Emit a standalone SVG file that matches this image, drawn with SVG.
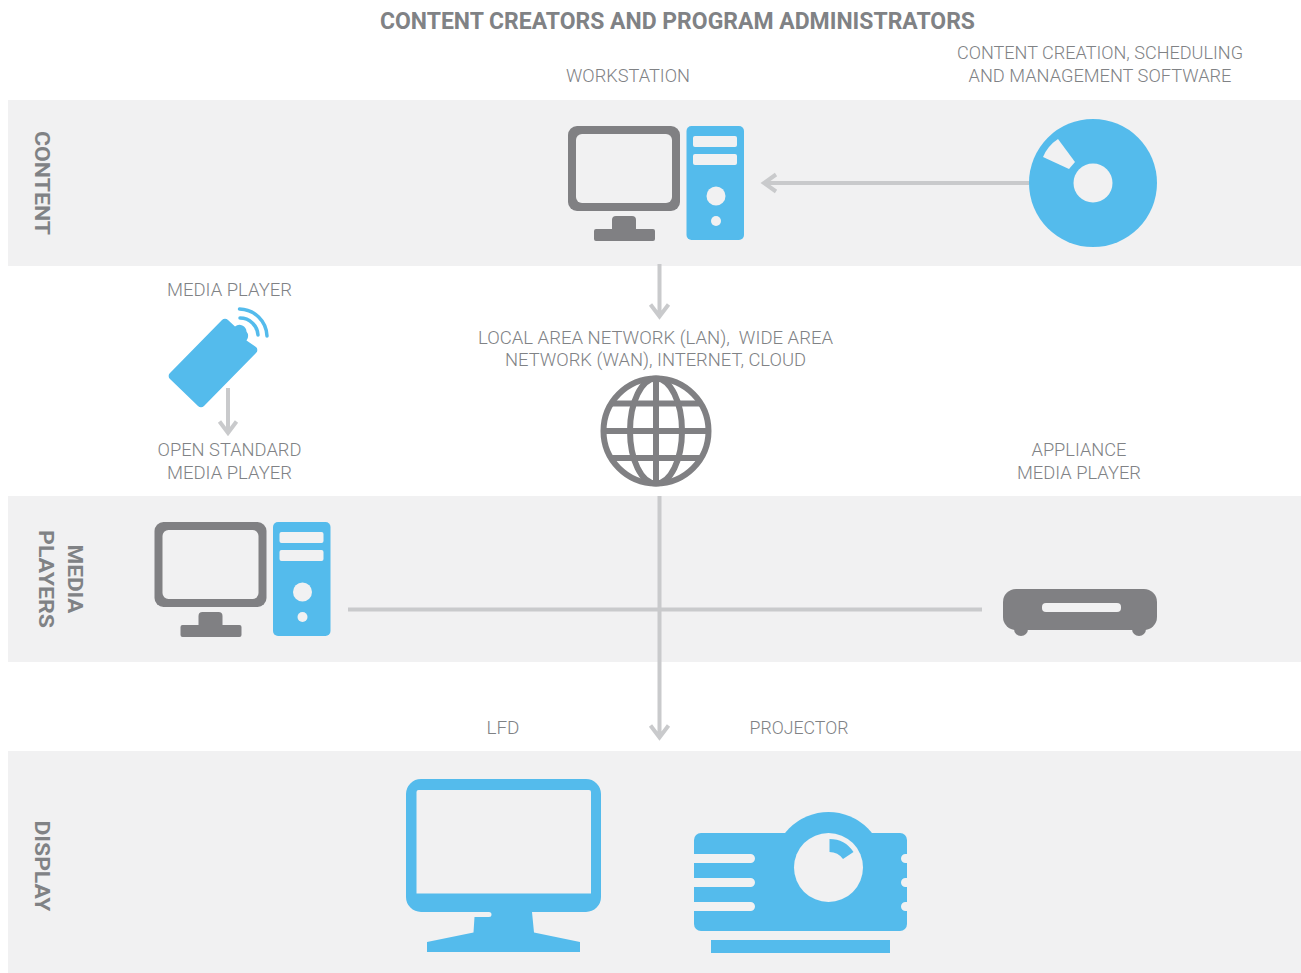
<svg xmlns="http://www.w3.org/2000/svg" xmlns:xlink="http://www.w3.org/1999/xlink" width="1301" height="973" viewBox="0 0 1301 973">
<style>
.band{fill:#f1f1f2}
.b{fill:#54bbec}
.g{fill:#808083}
.w{fill:#f1f1f2}
.ln{fill:none;stroke:#c9cacc;stroke-width:4}
text{font-family:"Roboto","Liberation Sans",sans-serif;fill:#808285}
.t{font-size:18px;font-weight:300;text-anchor:middle}
.h{font-size:23px;font-weight:700;text-anchor:middle}
.s{font-size:21px;font-weight:700;text-anchor:middle}
</style>
<defs>
<g id="pc">
<rect class="g" x="568" y="126" width="112" height="85" rx="9"/>
<rect class="w" x="576" y="134" width="96" height="69" rx="6"/>
<path class="g" d="M612 229V220a4 4 0 0 1 4-4h16a4 4 0 0 1 4 4v9h17a2 2 0 0 1 2 2v8a2 2 0 0 1-2 2h-57a2 2 0 0 1-2-2v-8a2 2 0 0 1 2-2z"/>
<rect class="b" x="686.500" y="126" width="57.500" height="114" rx="5"/>
<rect class="w" x="693" y="136" width="44" height="11" rx="2"/>
<rect class="w" x="693" y="154" width="44" height="11" rx="2"/>
<circle class="w" cx="716" cy="196" r="9.500"/>
<circle class="w" cx="716" cy="221" r="5"/>
</g>
</defs>
<g id="bands">
<rect class="band" x="8" y="100" width="1293" height="166"/>
<rect class="band" x="8" y="496" width="1293" height="166"/>
<rect class="band" x="8" y="751" width="1293" height="222"/>
</g>
<g id="connectors">
<path class="ln" d="M1029 183H765M776 174.500L764 183L776 191.500"/>
<path class="ln" d="M659.500 264V316M650.500 304.500L659.500 316.500L668.500 304.500"/>
<path class="ln" d="M228 388V432M219.500 421.500L228 433L236.500 421.500"/>
<path class="ln" d="M659.500 496V737M650.500 725.500L659.500 737.500L668.500 725.500"/>
<path class="ln" d="M348 609.500H982"/>
</g>
<g id="title"><text class="h" x="677.500" y="29" textLength="595" lengthAdjust="spacingAndGlyphs">CONTENT CREATORS AND PROGRAM ADMINISTRATORS</text></g>
<g id="content-label"><text class="s" transform="translate(35 183) rotate(90)" textLength="104" lengthAdjust="spacingAndGlyphs">CONTENT</text></g>
<g id="media-players-label">
<text class="s" transform="translate(68 579) rotate(90)" textLength="69" lengthAdjust="spacingAndGlyphs">MEDIA</text>
<text class="s" transform="translate(39 579) rotate(90)" textLength="98" lengthAdjust="spacingAndGlyphs">PLAYERS</text>
</g>
<g id="display-label"><text class="s" transform="translate(35 866) rotate(90)" textLength="91" lengthAdjust="spacingAndGlyphs">DISPLAY</text></g>
<g id="workstation">
<text class="t" x="628" y="82" textLength="124" lengthAdjust="spacingAndGlyphs">WORKSTATION</text>
<use xlink:href="#pc" href="#pc"/>
</g>
<g id="software">
<text class="t" x="1100" y="59" textLength="286" lengthAdjust="spacingAndGlyphs">CONTENT CREATION, SCHEDULING</text>
<text class="t" x="1100" y="82" textLength="263" lengthAdjust="spacingAndGlyphs">AND MANAGEMENT SOFTWARE</text>
<circle class="b" cx="1093" cy="183" r="64"/>
<circle class="w" cx="1093" cy="183" r="19.500"/>
<path class="w" d="M1058 139L1075 162L1069 169L1043 157A40 40 0 0 1 1058 139Z"/>
</g>
<g id="media-player">
<text class="t" x="229.500" y="296" textLength="125" lengthAdjust="spacingAndGlyphs">MEDIA PLAYER</text>
<path class="b" d="M222 320a4 4 0 0 1 6 0L235 326.500a7 7 0 0 1 11.500 5a7 7 0 0 1 0 9L256 347a4 4 0 0 1 0 6L204 406a4 4 0 0 1-6 0L170 379a4 4 0 0 1 0-6Z"/>
<path d="M240 318A18 18 0 0 1 258 335M239.500 309A28 28 0 0 1 267 336" fill="none" stroke="#54bbec" stroke-width="3.500" stroke-linecap="round"/>
<text class="t" x="229.500" y="456" textLength="144" lengthAdjust="spacingAndGlyphs">OPEN STANDARD</text>
<text class="t" x="229.500" y="479" textLength="125" lengthAdjust="spacingAndGlyphs">MEDIA PLAYER</text>
</g>
<g id="network">
<text class="t" x="655.500" y="344" textLength="355" lengthAdjust="spacingAndGlyphs" xml:space="preserve">LOCAL AREA NETWORK (LAN),  WIDE AREA</text>
<text class="t" x="655.500" y="366" textLength="301" lengthAdjust="spacingAndGlyphs">NETWORK (WAN), INTERNET, CLOUD</text>
<g fill="none" stroke="#808083" stroke-width="6">
<circle cx="656" cy="431" r="52.500"/>
<ellipse cx="656" cy="431" rx="26" ry="52.500"/>
<path d="M656 378V484M604 431H708M612 403.500H700M612 458H700"/>
</g>
</g>
<g id="open-standard-player"><use xlink:href="#pc" href="#pc" transform="translate(-413.500 396)"/></g>
<g id="appliance">
<text class="t" x="1079" y="456" textLength="95" lengthAdjust="spacingAndGlyphs">APPLIANCE</text>
<text class="t" x="1079" y="479" textLength="124" lengthAdjust="spacingAndGlyphs">MEDIA PLAYER</text>
<rect class="g" x="1003" y="589" width="154" height="41" rx="13"/>
<circle class="g" cx="1021" cy="629" r="7"/>
<circle class="g" cx="1139" cy="629" r="7"/>
<rect class="w" x="1042" y="603" width="79" height="9" rx="4"/>
</g>
<g id="lfd">
<text class="t" x="503" y="734" textLength="33" lengthAdjust="spacingAndGlyphs">LFD</text>
<path class="b" fill-rule="evenodd" d="M421 779H586a15 15 0 0 1 15 15V897a15 15 0 0 1-15 15H532L534 932.500L580 942V952H427V942L473.500 932.500L474.500 917H489a2.500 2.500 0 0 0 0-5H421a15 15 0 0 1-15-15V794a15 15 0 0 1 15-15ZM418.500 790a2 2 0 0 0-2 2V893.500H591V792a2 2 0 0 0-2-2Z"/>
</g>
<g id="projector">
<text class="t" x="799" y="734" textLength="99" lengthAdjust="spacingAndGlyphs">PROJECTOR</text>
<circle class="b" cx="828.500" cy="867.500" r="55.500"/>
<rect class="b" x="694" y="833" width="213" height="98" rx="7"/>
<circle class="w" cx="828.500" cy="867.500" r="34.500"/>
<path class="b" d="M829.500 839A29 29 0 0 1 853.500 852L843 859A17 17 0 0 0 829.500 852Z"/>
<path class="w" d="M694 854H750.500a4.500 4.500 0 0 1 0 9H694ZM694 878H750.500a4.500 4.500 0 0 1 0 9H694ZM694 902H750.500a4.500 4.500 0 0 1 0 9H694Z"/>
<path class="w" d="M908 854H905.500a4.500 4.500 0 0 0 0 9H908ZM908 878H905.500a4.500 4.500 0 0 0 0 9H908ZM908 902H905.500a4.500 4.500 0 0 0 0 9H908Z"/>
<rect class="b" x="711" y="940" width="179" height="13"/>
</g>
</svg>
